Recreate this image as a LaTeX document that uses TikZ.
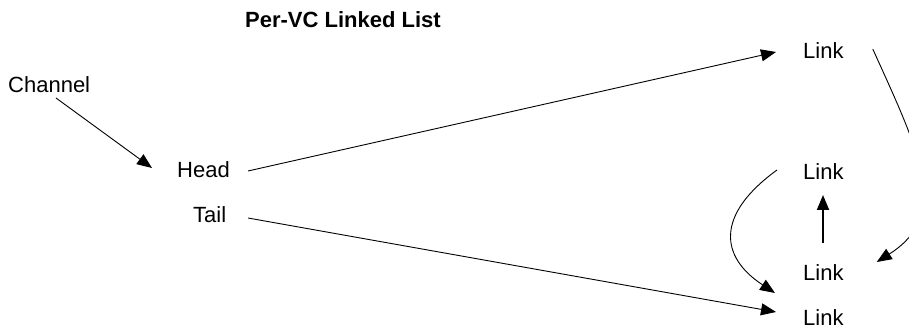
\documentclass[tikz,border=0pt]{standalone}
\usepackage{fontspec}
\setmainfont{Liberation Sans}
\usetikzlibrary{arrows.meta}
\begin{document}
\begin{tikzpicture}[x=1pt,y=-1pt,
  lbl/.style={anchor=base west,inner sep=0pt,font=\fontsize{22}{26}\selectfont},
  ttl/.style={anchor=base west,inner sep=0pt,font=\fontsize{22}{26}\selectfont\bfseries},
  arr/.style={-{Triangle[length=15pt,width=12pt]},line width=0.9pt},
  bigarr/.style={-{Triangle[length=15pt,width=12pt]},line width=2pt}]
\useasboundingbox (0,0) rectangle (909,328);
\clip (0,0) rectangle (909,328);
\node[ttl] (title) at (245,28) {Per-VC Linked List};
\node[lbl] (chan) at (8,93) {Channel};
\node[lbl] (head) at (177,178) {Head};
\node[lbl] (tail) at (193,223) {Tail};
\node[lbl] (l1) at (803,59) {Link};
\node[lbl] (l2) at (803,180) {Link};
\node[lbl] (l3) at (803,280) {Link};
\node[lbl] (l4) at (803,325) {Link};
\draw[arr] ([shift={(48,5)}]chan.base west) -- ([shift={(-25,-10)}]head.base west);
\draw[arr] ([shift={(71,-7)}]head.base west) -- ([shift={(-27,-7)}]l1.base west);
\draw[arr] ([shift={(55,-5)}]tail.base west) -- ([shift={(-27,-13)}]l4.base west);
\draw[bigarr] ([shift={(20,-37)}]l3.base west) -- ([shift={(20,15)}]l2.base west);
\draw[arr] ([shift={(29,-10)}]l1.base east) .. controls +(48,106) and +(74,-47) .. ([shift={(33,-18)}]l3.base east);
\draw[arr] ([shift={(-26,-10)}]l2.base west) .. controls +(-62,45) and +(-55,-36) .. ([shift={(-28,13)}]l3.base west);
\end{tikzpicture}
\end{document}
